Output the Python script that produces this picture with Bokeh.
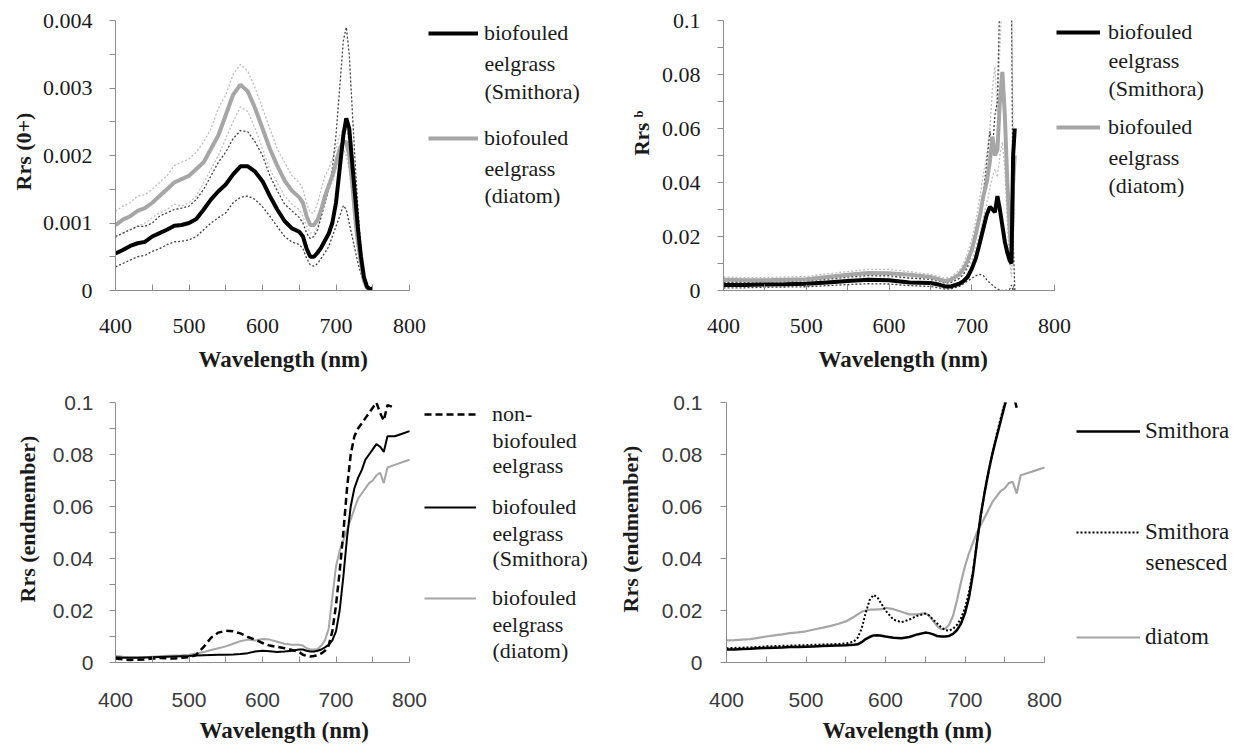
import math
from bokeh.plotting import figure
from bokeh.layouts import row, column
from bokeh.models import (Range1d, FixedTicker, CustomJSTickFormatter, Label,
                          Legend, LegendItem, Title)
from bokeh.embed import file_html
from bokeh.resources import INLINE

# ---------------- data ----------------
X_TICKS = [400, 500, 600, 700, 800]
X_MINOR = [450, 550, 650, 750]

P1_WL = [400, 410, 420, 430, 440, 450, 460, 470, 480, 490, 500, 510, 520, 530, 540, 550, 560, 570, 580, 590,
         600, 610, 620, 630, 640, 650, 655, 660, 665, 670, 675, 680, 685, 690, 695, 700, 705, 710,
         714, 718, 722, 726, 730, 734, 738, 742, 746, 750]
p1_smithora_mean = [0.00055, 0.00060, 0.00066, 0.00070, 0.00072, 0.00080, 0.00085, 0.00090, 0.00096, 0.00097,
                    0.00100, 0.00106, 0.00120, 0.00135, 0.00147, 0.00157, 0.00172, 0.00184, 0.00184, 0.00176,
                    0.00162, 0.00140, 0.00120, 0.00103, 0.00092, 0.00087,
                    0.00080, 0.00062, 0.00050, 0.00050, 0.00056, 0.00064, 0.00074, 0.00084, 0.00100, 0.00130, 0.00180, 0.00230,
                    0.00255, 0.00240, 0.00190, 0.00140, 0.00090, 0.00050, 0.00020, 0.00006, 0.00002, 0.00003]
p1_diatom_mean = [0.00097, 0.00105, 0.00110, 0.00118, 0.00122, 0.00130, 0.00140, 0.00150, 0.00160, 0.00165,
                  0.00170, 0.00180, 0.00190, 0.00210, 0.00230, 0.00260, 0.00290, 0.00305, 0.00295, 0.00270,
                  0.00240, 0.00210, 0.00185, 0.00163, 0.00148, 0.00138,
                  0.00130, 0.00110, 0.00097, 0.00097, 0.00105, 0.00120, 0.00140, 0.00155, 0.00170, 0.00190, 0.00210, 0.00220,
                  0.00220, 0.00200, 0.00160, 0.00110, 0.00070, 0.00040, 0.00015, 0.00004, 0.00001, 0.0]
p1_smithora_hi = [0.00080, 0.00085, 0.00090, 0.00095, 0.00095, 0.00100, 0.00110, 0.00115, 0.00120, 0.00122,
                  0.00125, 0.00135, 0.00150, 0.00170, 0.00190, 0.00205, 0.00225, 0.00237, 0.00235, 0.00220,
                  0.00200, 0.00170, 0.00148, 0.00128, 0.00118, 0.00108,
                  0.00100, 0.00085, 0.00077, 0.00080, 0.00090, 0.00110, 0.00130, 0.00150, 0.00180, 0.00230, 0.00300, 0.00370,
                  0.00390, 0.00350, 0.00270, 0.00190, 0.00120, 0.00060, 0.00025, 0.00008, 0.00003, 0.00003]
p1_smithora_lo = [0.00035, 0.00040, 0.00045, 0.00050, 0.00052, 0.00058, 0.00062, 0.00068, 0.00072, 0.00073,
                  0.00075, 0.00080, 0.00090, 0.00100, 0.00108, 0.00115, 0.00130, 0.00138, 0.00140, 0.00135,
                  0.00124, 0.00110, 0.00095, 0.00080, 0.00072, 0.00068,
                  0.00062, 0.00048, 0.00038, 0.00036, 0.00040, 0.00048, 0.00056, 0.00065, 0.00080, 0.00095, 0.00110, 0.00126,
                  0.00120, 0.00100, 0.00080, 0.00060, 0.00040, 0.00025, 0.00010, 0.00004, 0.00001, 0.00002]
p1_diatom_hi = [0.00117, 0.00125, 0.00130, 0.00140, 0.00142, 0.00150, 0.00160, 0.00170, 0.00185, 0.00190,
                0.00195, 0.00205, 0.00220, 0.00240, 0.00270, 0.00290, 0.00320, 0.00335, 0.00325, 0.00300,
                0.00270, 0.00240, 0.00210, 0.00190, 0.00170, 0.00160,
                0.00150, 0.00130, 0.00115, 0.00115, 0.00130, 0.00150, 0.00170, 0.00180, 0.00195, 0.00210, 0.00230, 0.00240,
                0.00240, 0.00220, 0.00180, 0.00130, 0.00080, 0.00045, 0.00020, 0.00005, 0.00002, 0.0]
p1_diatom_lo = [0.00078, 0.00085, 0.00090, 0.00095, 0.00100, 0.00108, 0.00115, 0.00120, 0.00128, 0.00125,
                0.00130, 0.00140, 0.00160, 0.00180, 0.00200, 0.00225, 0.00250, 0.00272, 0.00265, 0.00240,
                0.00210, 0.00180, 0.00160, 0.00140, 0.00128, 0.00120,
                0.00110, 0.00095, 0.00085, 0.00085, 0.00095, 0.00110, 0.00130, 0.00150, 0.00160, 0.00180, 0.00200, 0.00210,
                0.00200, 0.00180, 0.00140, 0.00090, 0.00060, 0.00030, 0.00010, 0.00003, 0.0, 0.0]
P1_YTICKS = [0, 0.001, 0.002, 0.003, 0.004]
P1_YMINOR = [0.0005, 0.0015, 0.0025, 0.0035]

P2_WL = [400, 425, 450, 475, 500, 525, 550, 575, 600, 625, 650, 660, 668, 675, 685, 690, 695, 700, 705, 710,
         714, 718, 722, 725, 728, 731, 734, 737, 740, 743, 746, 748, 750, 752]
p2_smithora_mean = [0.002, 0.002, 0.0022, 0.0023, 0.0025, 0.003, 0.0035, 0.004, 0.0038, 0.003,
                    0.0028, 0.0022, 0.0015, 0.0015, 0.0025, 0.0035, 0.005, 0.008, 0.012, 0.018,
                    0.023, 0.028, 0.031, 0.030, 0.029, 0.035, 0.030, 0.024, 0.018, 0.014,
                    0.011, 0.010, 0.050, 0.060]
p2_diatom_mean = [0.004, 0.0038, 0.0038, 0.004, 0.0042, 0.005, 0.0058, 0.0065, 0.0064, 0.0058,
                  0.005, 0.0042, 0.0035, 0.004, 0.006, 0.008, 0.011, 0.015, 0.021, 0.028,
                  0.035, 0.040, 0.048, 0.057, 0.050, 0.052, 0.070, 0.081, 0.065, 0.040,
                  0.022, 0.012, 0.040, 0.050]
p2_smithora_hi = [0.003, 0.003, 0.0032, 0.0033, 0.0036, 0.0042, 0.005, 0.0056, 0.0055, 0.0046,
                  0.0042, 0.0035, 0.0028, 0.003, 0.0045, 0.006, 0.009, 0.014, 0.020, 0.028,
                  0.036, 0.047, 0.059, 0.052, 0.065, 0.070, 0.110, 0.110, 0.110, 0.110,
                  0.110, 0.110, 0.020, 0.0]
p2_smithora_lo = [0.001, 0.001, 0.0012, 0.0013, 0.0014, 0.0018, 0.0022, 0.0025, 0.0024, 0.0018,
                  0.0015, 0.001, 0.0005, 0.0006, 0.0015, 0.0025, 0.0035, 0.0045, 0.0055, 0.006,
                  0.0055, 0.004, 0.0028, 0.002, 0.0012, 0.0006, 0.0002, 0.0, 0.0, 0.0,
                  0.0005, 0.002, 0.0, 0.0]
p2_diatom_hi = [0.005, 0.0048, 0.0048, 0.005, 0.0052, 0.0062, 0.007, 0.0078, 0.0078, 0.007,
                0.006, 0.0052, 0.0045, 0.005, 0.0075, 0.010, 0.014, 0.019, 0.026, 0.035,
                0.043, 0.050, 0.060, 0.075, 0.083, 0.065, 0.090, 0.110, 0.110, 0.110,
                0.110, 0.110, 0.060, 0.040]
p2_diatom_lo = [0.003, 0.0028, 0.0028, 0.003, 0.0032, 0.0038, 0.0045, 0.0052, 0.005, 0.0046,
                0.004, 0.0033, 0.0026, 0.003, 0.0045, 0.006, 0.008, 0.011, 0.016, 0.021,
                0.027, 0.032, 0.038, 0.042, 0.045, 0.042, 0.050, 0.055, 0.045, 0.025,
                0.010, 0.005, 0.020, 0.030]
P2_YTICKS = [0, 0.02, 0.04, 0.06, 0.08, 0.1]
P2_YMINOR = [0.01, 0.03, 0.05, 0.07, 0.09]

P3_WL = [400, 410, 420, 430, 440, 450, 460, 470, 480, 490, 500, 510, 520, 530, 540, 550, 560, 570, 580, 590,
         600, 610, 620, 630, 640, 650, 655, 660, 665, 670, 675, 680, 685, 690, 695, 700, 705, 710,
         715, 720, 725, 730, 735, 740, 745, 750, 755, 760, 765, 770, 780, 790, 800]
P3_WL_NONBIO = P3_WL[:51]
p3_nonbio = [0.0015, 0.0012, 0.0010, 0.0011, 0.0012, 0.0015, 0.0017, 0.0016, 0.0015, 0.0018,
             0.0020, 0.0030, 0.0060, 0.0095, 0.0115, 0.0122, 0.0120, 0.0112, 0.0098, 0.0088,
             0.0075, 0.0065, 0.0060, 0.0055, 0.0048, 0.0040,
             0.0030, 0.0025, 0.0023, 0.0025, 0.0028, 0.0035, 0.0045, 0.0065, 0.0120, 0.0220, 0.0350, 0.0500,
             0.0670, 0.0800, 0.0870, 0.0900, 0.0920, 0.0940, 0.0960, 0.0980, 0.1000, 0.0960, 0.0930, 0.0990,
             0.0980]
p3_smithora = [0.0020, 0.0018, 0.0018, 0.0018, 0.0019, 0.0020, 0.0021, 0.0022, 0.0023, 0.0024,
               0.0025, 0.0027, 0.0028, 0.0029, 0.0030, 0.0030, 0.0031, 0.0033, 0.0036, 0.0042,
               0.0045, 0.0043, 0.0040, 0.0042, 0.0045, 0.0050,
               0.0050, 0.0045, 0.0042, 0.0042, 0.0045, 0.0050, 0.0058, 0.0068, 0.0085, 0.0120, 0.0200, 0.0330,
               0.0480, 0.0600, 0.0670, 0.0710, 0.0740, 0.0780, 0.0800, 0.0820, 0.0840, 0.0830, 0.0810, 0.0870,
               0.0870, 0.0880, 0.0890]
p3_diatom = [0.0025, 0.0022, 0.0020, 0.0020, 0.0020, 0.0022, 0.0024, 0.0026, 0.0027, 0.0028,
             0.0030, 0.0035, 0.0040, 0.0048, 0.0055, 0.0062, 0.0072, 0.0082, 0.0088, 0.0085,
             0.0090, 0.0088, 0.0080, 0.0072, 0.0068, 0.0068,
             0.0065, 0.0055, 0.0050, 0.0050, 0.0052, 0.0065, 0.0085, 0.0130, 0.0250, 0.0370, 0.0430, 0.0470,
             0.0510, 0.0550, 0.0590, 0.0630, 0.0650, 0.0670, 0.0690, 0.0700, 0.0720, 0.0730, 0.0690, 0.0750,
             0.0760, 0.0770, 0.0780]
P3_YTICKS = [0, 0.02, 0.04, 0.06, 0.08, 0.1]
P3_YMINOR = [0.01, 0.03, 0.05, 0.07, 0.09]

P4_WL = [400, 410, 420, 430, 440, 450, 460, 470, 480, 490, 500, 510, 520, 530, 540, 550, 560,
         565, 570, 575, 580, 585, 590, 595, 600, 610, 620, 630, 640, 650,
         655, 660, 665, 670, 675, 680, 685, 690, 695, 700, 705, 710, 715, 720, 725, 730, 735, 740, 745, 750,
         755, 760, 765, 770, 780, 790, 800]
P4_WL_SMITHORA = P4_WL[:53]
p4_smithora = [0.0050, 0.0050, 0.0052, 0.0053, 0.0055, 0.0056, 0.0057, 0.0058, 0.0060, 0.0060, 0.0061, 0.0062,
               0.0063, 0.0064, 0.0065, 0.0066, 0.0068,
               0.0070, 0.0078, 0.0090, 0.0098, 0.0104, 0.0105, 0.0103, 0.0100,
               0.0095, 0.0093, 0.0098, 0.0108, 0.0115,
               0.0113, 0.0108, 0.0102, 0.0100, 0.0100, 0.0102, 0.0110, 0.0125, 0.0150, 0.0190, 0.0250, 0.0340,
               0.0460, 0.0570, 0.0660, 0.0740, 0.0810, 0.0870, 0.0930, 0.0990, 0.1030, 0.1040, 0.0980]
p4_senesced = [0.0055, 0.0056, 0.0057, 0.0058, 0.0060, 0.0062, 0.0063, 0.0064, 0.0065, 0.0066, 0.0067, 0.0068,
               0.0069, 0.0070, 0.0071, 0.0073, 0.0080,
               0.0095, 0.0130, 0.0190, 0.0240, 0.0260, 0.0250, 0.0225, 0.0200,
               0.0165, 0.0155, 0.0165, 0.0180, 0.0188,
               0.0180, 0.0165, 0.0150, 0.0135, 0.0125, 0.0122, 0.0130, 0.0145, 0.0170, 0.0210, 0.0270, 0.0350,
               0.0460, 0.0570, 0.0660, 0.0740, 0.0810, 0.0880, 0.0940, 0.1000, 0.1040, 0.1040, 0.1000]
p4_diatom = [0.0085, 0.0086, 0.0088, 0.0090, 0.0095, 0.0100, 0.0104, 0.0108, 0.0113, 0.0116, 0.0120, 0.0127,
             0.0133, 0.0140, 0.0148, 0.0158, 0.0175,
             0.0185, 0.0195, 0.0200, 0.0203, 0.0203, 0.0204, 0.0205, 0.0210,
             0.0205, 0.0195, 0.0185, 0.0185, 0.0190,
             0.0180, 0.0160, 0.0140, 0.0128, 0.0130, 0.0145, 0.0180, 0.0240, 0.0310, 0.0370, 0.0420, 0.0460,
             0.0500, 0.0530, 0.0560, 0.0590, 0.0620, 0.0640, 0.0660, 0.0670, 0.0690, 0.0695, 0.0650, 0.0720,
             0.0730, 0.0740, 0.0750]
P4_YTICKS = [0, 0.02, 0.04, 0.06, 0.08, 0.1]

# ---------------- style ----------------
SERIF = "Liberation Serif"
SANS = "Liberation Sans"
TXT = "#1a1a1a"
AXIS = "#8c8c8c"
BLACK = "#000000"
GRAY = "#a6a6a6"
LGRAY = "#bdbdbd"
DGRAY = "#404040"
H = 24

FMT = CustomJSTickFormatter(code="return String(parseFloat(tick.toFixed(4)));")


def make_fig(width, height, left, top, bottom, plot_w, ymax):
    """Frame spans the plot area plus the legend area to its right;
    the x axis itself is bounded to 400-800 nm."""
    frame_w = width - left
    xmax = 400 + (frame_w / plot_w) * 400
    p = figure(width=width, height=height, x_range=Range1d(400, xmax), y_range=Range1d(0, ymax),
               output_backend="svg", toolbar_location=None,
               min_border_left=left, min_border_right=0,
               min_border_top=top, min_border_bottom=bottom)
    p.outline_line_color = None
    p.grid.visible = False
    p.background_fill_color = "white"
    p.border_fill_color = "white"
    p.xaxis.bounds = (400, 800)
    return p


def style_axes(p, yticks, yminor, font, size, color, xstand, ystand):
    xa = p.xaxis[0]
    ya = p.yaxis[0]
    xa.ticker = FixedTicker(ticks=X_TICKS, minor_ticks=X_MINOR)
    ya.ticker = FixedTicker(ticks=yticks, minor_ticks=yminor)
    ya.formatter = FMT
    for ax in (xa, ya):
        ax.axis_line_color = AXIS
        ax.major_tick_line_color = AXIS
        ax.minor_tick_line_color = AXIS
        ax.major_label_text_font = font
        ax.major_label_text_font_size = size
        ax.major_label_text_color = color
    xa.major_tick_in = 6
    xa.major_tick_out = 0
    xa.minor_tick_in = 6
    xa.minor_tick_out = 0
    ya.major_tick_in = 0
    ya.major_tick_out = 6
    ya.minor_tick_in = 0
    ya.minor_tick_out = 6
    xa.major_label_standoff = xstand
    ya.major_label_standoff = ystand


def add_titles(p, xtitle, xoff, xstand, ytitle, yoff, ystand, ysize="22px"):
    p.add_layout(Title(text=xtitle, align="left", offset=xoff, standoff=xstand,
                       text_font=SERIF, text_font_size="23px", text_font_style="bold",
                       text_color=TXT), "below")
    p.add_layout(Title(text=ytitle, align="left", offset=yoff, standoff=ystand,
                       text_font=SERIF, text_font_size=ysize, text_font_style="bold",
                       text_color=TXT), "left")


def add_text(p, text, x, y, size):
    p.add_layout(Label(x=x, y=y, x_units="screen", y_units="screen", text=text,
                       text_font=SERIF, text_font_size=size,
                       text_align="left", text_baseline="middle", text_color=TXT))


def add_entry(p, r, first, lx, ly, gw, standoff, size):
    leg = Legend(items=[LegendItem(label=first, renderers=[r])], location=(lx, ly),
                 padding=0, margin=0, spacing=0, glyph_width=gw, glyph_height=H,
                 label_height=H, label_standoff=standoff,
                 label_text_font=SERIF, label_text_font_size=size,
                 label_text_color=TXT,
                 border_line_alpha=0, background_fill_alpha=0)
    p.add_layout(leg)


# Frames in one row share top/bottom borders: row 1 frames span y 20-290,
# row 2 frames span y 402-662 (page pixels).
B1 = 290
B2 = 662

# ---------------- panel 1 ----------------
p1 = make_fig(612, 383, 115, 20, 93, 294, 0.004)
style_axes(p1, P1_YTICKS, P1_YMINOR, SERIF, "22px", TXT, 28, 17)
p1.line(P1_WL, p1_diatom_hi, line_color=LGRAY, line_width=1.3, line_dash="2 2")
p1.line(P1_WL, p1_diatom_lo, line_color=LGRAY, line_width=1.3, line_dash="2 2")
p1.line(P1_WL, p1_smithora_hi, line_color=DGRAY, line_width=1.3, line_dash="2 2")
p1.line(P1_WL, p1_smithora_lo, line_color=DGRAY, line_width=1.3, line_dash="2 2")
r1g = p1.line(P1_WL, p1_diatom_mean, line_color=GRAY, line_width=4)
r1b = p1.line(P1_WL, p1_smithora_mean, line_color=BLACK, line_width=4)
add_entry(p1, r1b, "biofouled", 313, B1 - 34 - H / 2, 50, 6, "22px")
add_text(p1, "eelgrass", 369, B1 - 63, "22px")
add_text(p1, "(Smithora)", 369, B1 - 91, "22px")
add_entry(p1, r1g, "biofouled", 313, B1 - 139 - H / 2, 50, 6, "22px")
add_text(p1, "eelgrass", 369, B1 - 168, "22px")
add_text(p1, "(diatom)", 369, B1 - 195, "22px")
add_titles(p1, "Wavelength (nm)", 83, 18, "Rrs (0+)", B1 - 190, 8)

# ---------------- panel 2 ----------------
p2 = make_fig(628, 383, 111, 20, 93, 331, 0.1)
style_axes(p2, P2_YTICKS, P2_YMINOR, SERIF, "22px", TXT, 28, 17)
p2.line(P2_WL, p2_diatom_hi, line_color=LGRAY, line_width=1.3, line_dash="2 2")
p2.line(P2_WL, p2_diatom_lo, line_color=LGRAY, line_width=1.3, line_dash="2 2")
p2.line(P2_WL, p2_smithora_hi, line_color=DGRAY, line_width=1.3, line_dash="2 2")
p2.line(P2_WL, p2_smithora_lo, line_color=DGRAY, line_width=1.3, line_dash="2 2")
r2g = p2.line(P2_WL, p2_diatom_mean, line_color=GRAY, line_width=4)
r2b = p2.line(P2_WL, p2_smithora_mean, line_color=BLACK, line_width=4)
add_entry(p2, r2b, "biofouled", 333, B1 - 33 - H / 2, 44, 8, "22px")
add_text(p2, "eelgrass", 385, B1 - 60, "22px")
add_text(p2, "(Smithora)", 385, B1 - 88, "22px")
add_entry(p2, r2g, "biofouled", 333, B1 - 128 - H / 2, 44, 8, "22px")
add_text(p2, "eelgrass", 385, B1 - 157, "22px")
add_text(p2, "(diatom)", 385, B1 - 185, "22px")
add_titles(p2, "Wavelength (nm)", 95, 18, "Rrs \u1d47", B1 - 155, 10, ysize="21px")

# ---------------- panel 3 ----------------
p3 = make_fig(596, 370, 115, 19, 91, 294, 0.1)
style_axes(p3, P3_YTICKS, P3_YMINOR, SANS, "21px", "#3a3a3a", 30, 16)
r3g = p3.line(P3_WL, p3_diatom, line_color=GRAY, line_width=2)
r3b = p3.line(P3_WL, p3_smithora, line_color=BLACK, line_width=2)
r3d = p3.line(P3_WL_NONBIO, p3_nonbio, line_color=BLACK, line_width=2.5, line_dash="7 4")
add_entry(p3, r3d, "non-", 309, B2 - 415 - H / 2, 52, 16, "22px")
add_text(p3, "biofouled", 377, B2 - 440, "22px")
add_text(p3, "eelgrass", 377, B2 - 465, "22px")
add_entry(p3, r3b, "biofouled", 309, B2 - 508 - H / 2, 52, 16, "22px")
add_text(p3, "eelgrass", 377, B2 - 533, "22px")
add_text(p3, "(Smithora)", 377, B2 - 558, "22px")
add_entry(p3, r3g, "biofouled", 309, B2 - 599 - H / 2, 52, 16, "22px")
add_text(p3, "eelgrass", 377, B2 - 624, "22px")
add_text(p3, "(diatom)", 377, B2 - 650, "22px")
add_titles(p3, "Wavelength (nm)", 84, 12, "Rrs (endmember)", B2 - 602, 20)

# ---------------- panel 4 ----------------
p4 = make_fig(644, 370, 130, 19, 91, 318, 0.1)
style_axes(p4, P4_YTICKS, [], SANS, "21px", "#3a3a3a", 30, 18)
r4g = p4.line(P4_WL, p4_diatom, line_color=GRAY, line_width=2.2)
r4s = p4.line(P4_WL_SMITHORA, p4_senesced, line_color=BLACK, line_width=2, line_dash="2 2")
r4b = p4.line(P4_WL_SMITHORA, p4_smithora, line_color=BLACK, line_width=2.5)
add_entry(p4, r4b, "Smithora", 350, B2 - 432 - H / 2, 64, 5, "23px")
add_entry(p4, r4s, "Smithora", 350, B2 - 533 - H / 2, 64, 5, "23px")
add_text(p4, "senesced", 419, B2 - 562, "23px")
add_entry(p4, r4g, "diatom", 350, B2 - 638 - H / 2, 64, 5, "23px")
add_titles(p4, "Wavelength (nm)", 96, 12, "Rrs (endmember)", B2 - 612, 32)

layout = column(row(p1, p2), row(p3, p4))
open("out.html", "w").write(file_html(layout, INLINE))
